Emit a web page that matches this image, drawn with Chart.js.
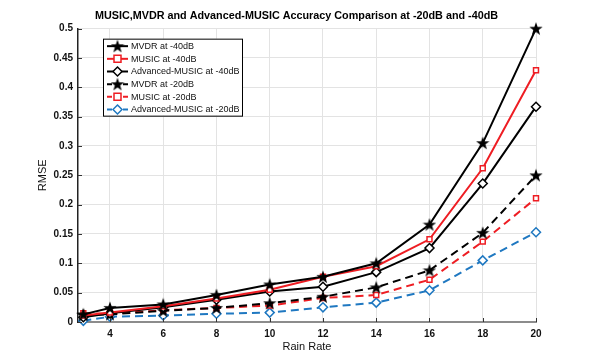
<!DOCTYPE html>
<html>
<head>
<meta charset="utf-8">
<script src="https://cdn.jsdelivr.net/npm/chart.js"></script>
<style>
  body { margin: 0; background: #fff; }
  canvas { display: block; }
</style>
</head>
<body>
<canvas id="myChart" width="593" height="361"></canvas>
<script>
// values
const rainRate = [3, 4, 6, 8, 10, 12, 14, 16, 18, 20];
const xTicks = [4, 6, 8, 10, 12, 14, 16, 18, 20];
const yTicks = [0, 0.05, 0.1, 0.15, 0.2, 0.25, 0.3, 0.35, 0.4, 0.45, 0.5];

const mvdr40  = [0.013, 0.024, 0.030, 0.046, 0.064, 0.077, 0.100, 0.166, 0.305, 0.500];
const music40 = [0.011, 0.016, 0.027, 0.040, 0.055, 0.077, 0.095, 0.141, 0.262, 0.429];
const adv40   = [0.008, 0.015, 0.025, 0.038, 0.052, 0.060, 0.085, 0.126, 0.236, 0.367];
const mvdr20  = [0.012, 0.013, 0.019, 0.024, 0.032, 0.043, 0.059, 0.088, 0.152, 0.250];
const music20 = [0.015, 0.014, 0.020, 0.024, 0.028, 0.041, 0.046, 0.072, 0.137, 0.211];
const adv20   = [0.002, 0.009, 0.011, 0.014, 0.016, 0.025, 0.033, 0.054, 0.105, 0.153];

const RED = '#ee1d23';
const BLUE = '#1f78c1';
const FONT = '"Liberation Sans", Arial, sans-serif';

// filled five point star, used as marker image
function makeStar(size, color) {
  const c = document.createElement('canvas');
  c.width = size; c.height = size;
  const g = c.getContext('2d');
  const cx = size / 2, cy = size / 2 + 0.5;
  const R = size / 2, r = R * 0.4;
  g.beginPath();
  for (let i = 0; i < 10; i++) {
    const rad = i % 2 ? r : R;
    const a = -Math.PI / 2 + i * Math.PI / 5;
    g.lineTo(cx + rad * Math.cos(a), cy + rad * Math.sin(a));
  }
  g.closePath();
  g.fillStyle = color;
  g.fill();
  return c;
}
const star = makeStar(14, '#000');

function ds(label, data, color, style, dashed) {
  return {
    label: label,
    data: data.map((v, i) => ({x: rainRate[i], y: v})),
    borderColor: color,
    backgroundColor: '#fff',
    borderWidth: 2,
    borderDash: dashed ? [8, 5] : [],
    pointStyle: style,
    pointRadius: style === 'rect' ? 3.5 : 4.5,
    pointBorderWidth: 1.5,
    pointBorderColor: color,
    pointBackgroundColor: '#fff',
    tension: 0,
    clip: false
  };
}

const datasets = [
  ds('MVDR at -40dB', mvdr40, '#000', star, false),
  ds('MUSIC at -40dB', music40, RED, 'rect', false),
  ds('Advanced-MUSIC at -40dB', adv40, '#000', 'rectRot', false),
  ds('MVDR at -20dB', mvdr20, '#000', star, true),
  ds('MUSIC at -20dB', music20, RED, 'rect', true),
  ds('Advanced-MUSIC at -20dB', adv20, BLUE, 'rectRot', true)
];

function drawMarker(ctx, d, x, y) {
  ctx.save();
  ctx.setLineDash([]);
  if (d.pointStyle === star) {
    ctx.drawImage(star, x - star.width / 2, y - star.height / 2);
  } else {
    const r = d.pointRadius;
    ctx.beginPath();
    if (d.pointStyle === 'rect') {
      ctx.rect(x - r, y - r, 2 * r, 2 * r);
    } else {
      ctx.moveTo(x, y - r); ctx.lineTo(x + r, y);
      ctx.lineTo(x, y + r); ctx.lineTo(x - r, y);
      ctx.closePath();
    }
    ctx.fillStyle = '#fff';
    ctx.fill();
    ctx.lineWidth = d.pointBorderWidth;
    ctx.strokeStyle = d.borderColor;
    ctx.stroke();
  }
  ctx.restore();
}

const extras = {
  id: 'extras',
  afterDatasetsDraw(chart) {
    const ctx = chart.ctx;
    const xs = chart.scales.x, ys = chart.scales.y;
    const area = chart.chartArea;
    // inward tick marks
    ctx.save();
    ctx.strokeStyle = '#333';
    ctx.lineWidth = 1;
    xTicks.forEach(t => {
      const px = Math.round(xs.getPixelForValue(t)) + 0.5;
      ctx.beginPath(); ctx.moveTo(px, area.bottom); ctx.lineTo(px, area.bottom - 4); ctx.stroke();
    });
    yTicks.forEach(t => {
      const py = Math.round(ys.getPixelForValue(t)) + 0.5;
      ctx.beginPath(); ctx.moveTo(area.left, py); ctx.lineTo(area.left + 4, py); ctx.stroke();
    });
    ctx.restore();

    // legend box, upper left inside the axes
    const bx = area.left + 25, by = area.top + 10, bw = 139, bh = 77;
    ctx.save();
    ctx.fillStyle = '#fff';
    ctx.fillRect(bx, by, bw, bh);
    ctx.strokeStyle = '#000';
    ctx.lineWidth = 1;
    ctx.strokeRect(bx + 0.5, by + 0.5, bw, bh);
    ctx.font = '9px ' + FONT;
    ctx.textBaseline = 'middle';
    ctx.fillStyle = '#111';
    chart.data.datasets.forEach((d, i) => {
      const y = by + 7.5 + i * 12.67;
      ctx.save();
      ctx.strokeStyle = d.borderColor;
      ctx.lineWidth = 2;
      ctx.setLineDash(d.borderDash.length ? [5, 3] : []);
      ctx.beginPath(); ctx.moveTo(bx + 4, y); ctx.lineTo(bx + 25, y); ctx.stroke();
      ctx.restore();
      drawMarker(ctx, d, bx + 14.5, y);
      ctx.fillText(d.label, bx + 28, y + 0.5);
    });
    ctx.restore();
  }
};

new Chart(document.getElementById('myChart'), {
  type: 'line',
  data: { datasets: datasets },
  plugins: [extras],
  options: {
    responsive: false,
    animation: false,
    layout: { padding: 0 },
    plugins: {
      legend: { display: false },
      tooltip: { enabled: false },
      title: {
        display: true,
        text: 'MUSIC,MVDR and Advanced-MUSIC Accuracy Comparison at -20dB and -40dB',
        color: '#000',
        font: { family: FONT, size: 10.8, weight: 'bold' },
        padding: { top: 10, bottom: 5.7 }
      }
    },
    scales: {
      x: {
        type: 'linear',
        min: 2.8,
        max: 20,
        afterFit: s => { s.height = 39; },
        afterBuildTicks: s => { s.ticks = xTicks.map(v => ({value: v})); },
        grid: { color: '#e3e3e3', lineWidth: 1, drawTicks: false },
        border: { color: '#8c8c8c', width: 2 },
        ticks: {
          padding: 6,
          color: '#111',
          font: { family: FONT, size: 10, weight: 'bold' },
          maxRotation: 0
        },
        title: {
          display: true,
          text: 'Rain Rate',
          color: '#111',
          font: { family: FONT, size: 11 },
          padding: { top: 0, bottom: 7.4 }
        }
      },
      y: {
        min: 0,
        max: 0.5,
        afterFit: s => { s.width = 78; },
        afterBuildTicks: s => { s.ticks = yTicks.map(v => ({value: v})); },
        grid: { color: '#e3e3e3', lineWidth: 1, drawTicks: false },
        border: { color: '#222', width: 1.5 },
        ticks: {
          padding: 5,
          color: '#111',
          font: { family: FONT, size: 10, weight: 'bold' },
          callback: v => String(+v.toFixed(2))
        },
        title: {
          display: true,
          text: 'RMSE',
          color: '#111',
          font: { family: FONT, size: 11 },
          padding: { top: 36.4, bottom: 0 }
        }
      },
      // empty right-hand margin so the title centres on the whole figure
      spacer: {
        type: 'linear',
        position: 'right',
        display: true,
        afterFit: s => { s.width = 57; },
        grid: { display: false, drawTicks: false },
        border: { display: false },
        ticks: { display: false }
      }
    }
  }
});
</script>
</body>
</html>
